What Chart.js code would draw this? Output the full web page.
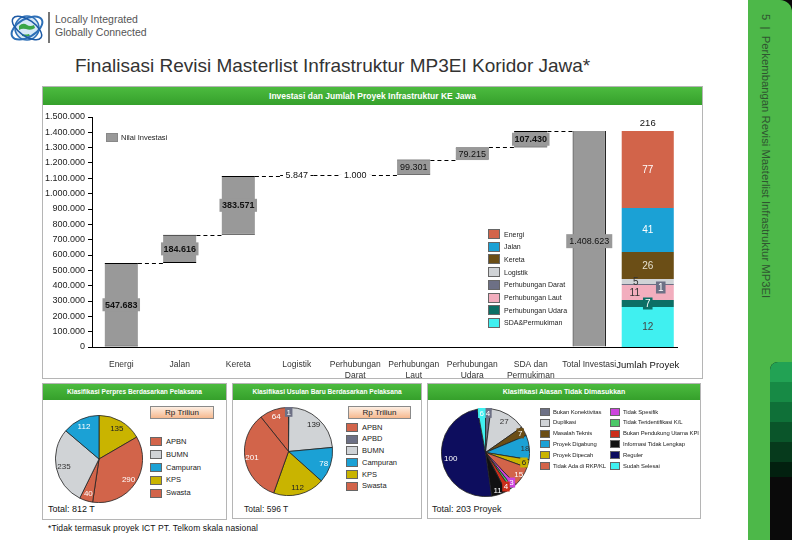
<!DOCTYPE html>
<html><head><meta charset="utf-8">
<script src="https://cdn.jsdelivr.net/npm/chart.js@4/dist/chart.umd.min.js"></script>
<style>
body{margin:0;width:792px;height:540px;position:relative;overflow:hidden;background:#fff;font-family:"Liberation Sans",Arial,sans-serif;}
.abs{position:absolute;}
.panel{position:absolute;border:1px solid #b5b5b5;box-sizing:border-box;background:#fff;}
.hdr{position:absolute;left:0;right:0;top:0;background:linear-gradient(#4cbb3f,#35a02b);color:#fff;font-weight:bold;text-align:center;white-space:nowrap;}
.lgbox{position:absolute;border:1px solid #666;box-sizing:border-box;}
.lgtxt{position:absolute;white-space:nowrap;color:#222;}
.btn{position:absolute;border:1px solid #8a8a8a;box-sizing:border-box;background:linear-gradient(#fdeee2,#f6b98f);font-size:8px;text-align:center;color:#222;}
</style></head><body>

<!-- data -->
<script>
const categories = [['Energi'],['Jalan'],['Kereta'],['Logistik'],['Perhubungan','Darat'],['Perhubungan','Laut'],['Perhubungan','Udara'],['SDA dan','Permukiman'],['Total Investasi'],['Jumlah Proyek']];
const investIncrements = [547683,184616,383571,5847,1000,99301,79215,107430];
const investTotal = 1408623;
const yAxisMax = 1500000;
const yAxisStep = 100000;

const proyekSectors = ['Energi','Jalan','Kereta','Logistik','Perhubungan Darat','Perhubungan Laut','Perhubungan Udara','SDA&Permukiman'];
const proyekHeights = [77,44,27,5,1,15,7,40];
const proyekLabels = ['77','41','26','5','1','11','7','12'];
const proyekTotal = 216;

const perpresLabels = ['KPS','APBN','Swasta','BUMN','Campuran'];
const perpresValues = [135,290,40,235,112];
const perpresLegend = ['APBN','BUMN','Campuran','KPS','Swasta'];
const perpresTotal = '812 T';

const usulanLabels = ['APBN','APBD','BUMN','Campuran','KPS','Swasta'];
const usulanValues = [64,1,139,78,112,201];
const usulanTotal = '596 T';

const alasanLabels = ['Bukan Konektivitas','Duplikasi','Masalah Teknis','Proyek Digabung','Proyek Dipecah','Tidak Ada di RKP/KL','Tidak Spesifik','Tidak Teridentifikasi K/L','Bukan Pendukung Utama KPI','Informasi Tidak Lengkap','Reguler','Sudah Selesai'];
const alasanValues = [4,27,7,18,6,15,3,2,4,11,100,6];
const alasanTotal = '203 Proyek';
</script>

<!-- logo -->
<svg class="abs" style="left:7px;top:8px" width="40" height="40" viewBox="0 0 40 40">
 <circle cx="20" cy="20" r="12" fill="#d6e8f7" stroke="#2d6fb7" stroke-width="1.6"/>
 <path d="M12 18 q4 -4 8 -1 q3 2 7 0 l1 3 q-4 3 -9 1 q-4 -1 -7 1z" fill="#3aa548"/>
 <path d="M15 26 q3 1 7 0 l1 2 q-3 1 -8 0z" fill="#3aa548"/>
 <ellipse cx="20" cy="20" rx="17" ry="9" fill="none" stroke="#2d6fb7" stroke-width="2" transform="rotate(-30 20 20)"/>
 <ellipse cx="20" cy="20" rx="17" ry="8" fill="none" stroke="#1d5aa5" stroke-width="1.5" transform="rotate(35 20 20)"/>
</svg>
<div class="abs" style="left:48px;top:12px;width:1.5px;height:31px;background:#777"></div>
<div class="abs" style="left:55px;top:13px;font-size:10.5px;color:#555;line-height:13px">Locally Integrated<br>Globally Connected</div>

<!-- title -->
<div class="abs" style="left:75px;top:55px;font-size:19px;color:#333;white-space:nowrap">Finalisasi Revisi Masterlist Infrastruktur MP3EI Koridor Jawa*</div>

<!-- right band -->
<div class="abs" style="left:780px;top:0;width:12px;height:20px;background-color:#0a0a0a"></div>
<div class="abs" style="left:748px;top:0;width:44px;height:540px;background-color:#4db849;border-top-right-radius:12px"></div>
<div class="abs" style="left:770px;top:362px;width:22px;height:178px;background-color:#0a0a0a;border-top-left-radius:8px;overflow:hidden;z-index:2">
  <div style="height:20px;background-color:#22a254"></div>
  <div style="height:20px;background-color:#178a45"></div>
  <div style="height:20px;background-color:#0f7038"></div>
  <div style="height:20px;background-color:#0a552a"></div>
  <div style="height:20px;background-color:#063a1c"></div>
  <div style="height:15px;background-color:#02200f"></div>
  <div style="height:70px;background-color:#0a0a0a"></div>
</div>
<div class="abs" style="left:760px;top:14px;writing-mode:vertical-rl;font-size:11.3px;color:#2f5530;white-space:nowrap">5&nbsp;&nbsp;|&nbsp;&nbsp;Perkembangan Revisi Masterlist Infrastruktur MP3EI</div>

<!-- top panel -->
<div class="panel" style="left:42px;top:86px;width:661px;height:293px">
  <div class="hdr" style="height:18px;line-height:18px;font-size:8.5px">Investasi dan Jumlah Proyek Infrastruktur KE Jawa</div>
</div>
<div class="abs" style="left:42px;top:104px;width:661px;height:274px"><canvas id="top" width="661" height="274"></canvas></div>
<div class="lgbox" style="left:106px;top:133px;width:12px;height:9px;background:#999;border-color:#888"></div>
<div class="lgtxt" style="left:121px;top:133px;font-size:7.5px">Nilai Investasi</div>
<div id="plegend"></div>

<!-- bottom panels -->
<div class="panel" style="left:42px;top:383px;width:185px;height:137px">
  <div class="hdr" style="height:16px;line-height:16px;font-size:6.6px">Klasifikasi Perpres Berdasarkan Pelaksana</div>
</div>
<div class="panel" style="left:232px;top:383px;width:190px;height:136px">
  <div class="hdr" style="height:16px;line-height:16px;font-size:6.6px">Klasifikasi Usulan Baru Berdasarkan Pelaksana</div>
</div>
<div class="panel" style="left:427px;top:383px;width:274px;height:136px">
  <div class="hdr" style="height:16px;line-height:16px;font-size:7px">Klasifikasi Alasan Tidak Dimasukkan</div>
</div>
<div class="btn" style="left:150px;top:406px;width:64px;height:13px;line-height:12px">Rp Triliun</div>
<div class="btn" style="left:348px;top:406px;width:63px;height:13px;line-height:12px">Rp Triliun</div>
<div class="abs" style="left:55px;top:415px"><canvas id="p1" width="88" height="88"></canvas></div>
<div class="abs" style="left:244px;top:407px"><canvas id="p2" width="89" height="89"></canvas></div>
<div class="abs" style="left:441px;top:408px"><canvas id="p3" width="89" height="89"></canvas></div>
<div id="l1"></div><div id="l2"></div><div id="l3"></div>
<div class="abs" id="t1" style="left:48px;top:504px;font-size:9px;color:#111"></div>
<div class="abs" id="t2" style="left:244px;top:504px;font-size:8.5px;color:#222"></div>
<div class="abs" id="t3" style="left:432px;top:504px;font-size:9px;color:#222"></div>
<div class="abs" style="left:48px;top:523px;font-size:8.5px;color:#111;white-space:nowrap;letter-spacing:0.1px">*Tidak termasuk proyek ICT PT. Telkom skala nasional</div>

<script>
Chart.defaults.font.family = "'Liberation Sans', Arial, sans-serif";
Chart.defaults.animation = false;

const colorMap = {
  'Energi':'#d2644a','Jalan':'#1ba1d5','Kereta':'#6b4e16','Logistik':'#d0d3d6',
  'Perhubungan Darat':'#6d7085','Perhubungan Laut':'#f2aebe','Perhubungan Udara':'#0c6f65','SDA&Permukiman':'#40f0f0',
  'APBN':'#d2644a','APBD':'#6d7085','BUMN':'#d0d3d6','Campuran':'#1ba1d5','KPS':'#c9b400','Swasta':'#d2644a',
  'Bukan Konektivitas':'#6d7085','Duplikasi':'#d0d3d6','Masalah Teknis':'#6b4e16','Proyek Digabung':'#1ba1d5',
  'Proyek Dipecah':'#c9b400','Tidak Ada di RKP/KL':'#d2644a','Tidak Spesifik':'#cc44dd','Tidak Teridentifikasi K/L':'#4cc868',
  'Bukan Pendukung Utama KPI':'#cc2e1a','Informasi Tidak Lengkap':'#111111','Reguler':'#0d0d5e','Sudah Selesai':'#40f0f0'
};
const fmt = v => String(v).replace(/\B(?=(\d{3})+(?!\d))/g,'.');

// legends
function legend(el, items, x, y0, dy, bw, bh, fs, tx){
  let h='';
  items.forEach((n,i)=>{
    const y=y0+dy*i;
    h+=`<div class="lgbox" style="left:${x}px;top:${y}px;width:${bw}px;height:${bh}px;background:${colorMap[n]}"></div>`;
    h+=`<div class="lgtxt" style="left:${x+bw+tx}px;top:${y+(bh-fs)/2-1}px;font-size:${fs}px;line-height:${fs+2}px">${n}</div>`;
  });
  document.getElementById(el).innerHTML=h;
}
legend('plegend', proyekSectors, 488, 229, 12.7, 12, 10, 7, 4);
legend('l1', perpresLegend, 150, 437, 12.9, 12, 9, 7.5, 4);
legend('l2', usulanLabels, 346, 423, 11.7, 12, 9, 7.5, 4);
(function(){
  const half = Math.ceil(alasanLabels.length/2);
  let h='';
  alasanLabels.forEach((n,i)=>{
    const col = i<half?0:1, row = i%half;
    const x = col?610:540, y = 408+row*10.8;
    h+=`<div class="lgbox" style="left:${x}px;top:${y}px;width:10px;height:8px;background:${colorMap[n]}"></div>`;
    h+=`<div class="lgtxt" style="left:${x+13}px;top:${y-0.5}px;font-size:5.9px;line-height:9px;letter-spacing:-0.1px">${n}</div>`;
  });
  document.getElementById('l3').innerHTML=h;
})();
document.getElementById('t1').textContent='Total: '+perpresTotal;
document.getElementById('t2').textContent='Total: '+usulanTotal;
document.getElementById('t3').textContent='Total: '+alasanTotal;

// waterfall data
const cum=[0];
investIncrements.forEach(v=>cum.push(cum[cum.length-1]+v));
const wfData = investIncrements.map((v,i)=>[cum[i],cum[i+1]]);
wfData.push([0,investTotal]);
wfData.push(null);

const datasets=[{
  label:'Nilai Investasi', data:wfData, yAxisID:'y', backgroundColor:'#999999',
  borderColor:'#000', borderWidth:(c)=>c.dataIndex===8?{left:1,right:1,top:0,bottom:0}:{top:1,bottom:1,left:0,right:0},
  borderSkipped:false, grouped:false, categoryPercentage:1, barPercentage:0.57
}];
// stack from bottom (last sector) to top (first sector)
const proyekOrder = proyekSectors.map((s,j)=>j).reverse();
proyekOrder.forEach(j=>{
  const s=proyekSectors[j];
  datasets.push({label:s, data:new Array(categories.length-1).fill(null).concat([proyekHeights[j]]),
    yAxisID:'y2', stack:'p', backgroundColor:colorMap[s], borderWidth:0, grouped:false, categoryPercentage:1, barPercentage:0.89});
});

function boxText(ctx, txt, x, y, bg, fg, font, padX, h){
  ctx.font=font;
  const w=ctx.measureText(txt).width+padX*2;
  if(bg){ctx.fillStyle=bg;ctx.fillRect(x-w/2,y-h/2,w,h);}
  ctx.fillStyle=fg;ctx.textAlign='center';ctx.textBaseline='middle';
  ctx.fillText(txt,x,y+0.5);
}

const wfPlugin={
  id:'wf',
  afterDatasetsDraw(chart){
    const ctx=chart.ctx, meta=chart.getDatasetMeta(0), ys=chart.scales.y;
    ctx.save();
    ctx.strokeStyle='#000';ctx.lineWidth=1;ctx.setLineDash([4,3]);
    for(let i=0;i<8;i++){
      const a=meta.data[i], b=meta.data[i+1];
      const lvl=Math.round(ys.getPixelForValue(cum[i+1]))+0.5;
      ctx.beginPath();ctx.moveTo(a.x+a.width/2,lvl);ctx.lineTo(b.x-b.width/2,lvl);ctx.stroke();
    }
    ctx.setLineDash([]);
    const styles=[
      {bold:true,bg:'#999'},{bold:true,bg:'#999'},{bold:true,bg:'#999'},
      {bold:false,bg:'#fff',lvl:true},{bold:false,bg:'#fff',lvl:true},
      {bold:false,bg:'#999'},{bold:false,bg:'#999'},{bold:true,bg:'#999'}];
    investIncrements.forEach((v,i)=>{
      const el=meta.data[i], st=styles[i];
      const y = st.lvl ? ys.getPixelForValue(cum[i+1]) : (el.y+el.base)/2;
      boxText(ctx, fmt(v), el.x, y, st.bg, '#111', (st.bold?'bold ':'')+'9px "Liberation Sans", Arial', 2.5, 13);
    });
    const t=meta.data[8];
    boxText(ctx, fmt(investTotal), t.x, ys.getPixelForValue(investTotal*0.49), '#999', '#111', '9px "Liberation Sans", Arial', 3, 14);
    // proyek labels
    const pstyle=[
      {fg:'#fff'},{fg:'#fff'},{fg:'#e6e0d0'},{fg:'#333',dx:-12},{fg:'#fff',dx:13,bg:'#6d7085'},
      {fg:'#333',dx:-13},{fg:'#fff',bg:'#0c6f65'},{fg:'#444'}];
    let topY=null, cx=null;
    proyekOrder.forEach((j,k)=>{
      const el=chart.getDatasetMeta(k+1).data[categories.length-1];
      const st=pstyle[j];
      const y=(el.y+el.base)/2 + (j===4?3:0);
      boxText(ctx, proyekLabels[j], el.x+(st.dx||0), y, st.bg||null, st.fg, '10px "Liberation Sans", Arial', 2, 12);
      if(topY===null||el.y<topY){topY=el.y;cx=el.x;}
    });
    boxText(ctx, String(proyekTotal), cx, topY-8, null, '#111', '9.5px "Liberation Sans", Arial', 0, 12);
    ctx.restore();
  }
};

new Chart(document.getElementById('top'),{
  type:'bar',
  data:{labels:categories,datasets},
  options:{
    responsive:false,
    layout:{padding:{top:13,right:26,left:0,bottom:0}},
    plugins:{legend:{display:false},tooltip:{enabled:false}},
    scales:{
      x:{grid:{display:false},border:{display:true,color:'#000'},
         ticks:{autoSkip:false,maxRotation:0,padding:5,color:(c)=>c.index===9?'#111':'#333',
           font:(c)=>({size:c.index===9?9.5:8.5})},
         afterFit:(s)=>{s.height=31;}},
      y:{min:0,max:yAxisMax,stacked:false,
         ticks:{stepSize:yAxisStep,color:'#222',font:{size:9},padding:3,callback:(v)=>fmt(v)},
         grid:{display:true,drawOnChartArea:false,drawTicks:true,tickLength:4,color:'#000'},
         border:{display:true,color:'#000'},
         afterFit:(s)=>{s.width=50;}},
      y2:{display:false,min:0,max:230,stacked:true}
    }
  },
  plugins:[wfPlugin]
});

// pies
function pieLabelPlugin(cfg){
  return {id:'pl',afterDatasetsDraw(chart){
    const ctx=chart.ctx, meta=chart.getDatasetMeta(0);
    ctx.save();
    meta.data.forEach((arc,i)=>{
      const c=cfg[i]; if(!c||!c.t) return;
      const mid=(arc.startAngle+arc.endAngle)/2, r=arc.outerRadius*(c.f||0.82);
      const x=arc.x+Math.cos(mid)*r, y=arc.y+Math.sin(mid)*r;
      boxText(ctx, c.t, x, y, c.bg||null, c.fg, '8px "Liberation Sans", Arial', 1.5, 10);
    });
    ctx.restore();
  }};
}
function pie(id, labels, values, rotation, cfg){
  new Chart(document.getElementById(id),{
    type:'pie',
    data:{labels,datasets:[{data:values,backgroundColor:labels.map(l=>colorMap[l]),borderColor:'#222',borderWidth:0.8}]},
    options:{responsive:false,rotation,layout:{padding:0},plugins:{legend:{display:false},tooltip:{enabled:false}}},
    plugins:[pieLabelPlugin(cfg)]
  });
}
const sum=a=>a.reduce((x,y)=>x+y,0);
pie('p1', perpresLabels, perpresValues, 0,
  perpresValues.map((v,i)=>({t:String(v),fg:['#222','#fff','#fff','#333','#fff'][i]})));
pie('p2', usulanLabels, usulanValues, -360*usulanValues[0]/sum(usulanValues),
  usulanValues.map((v,i)=>({t:String(v),fg:['#fff','#fff','#222','#fff','#222','#fff'][i],bg:i===1?'#6d7085':null,f:i===1?0.9:0.84})));
const alasanFg=['#fff','#333','#fff','#333','#222','#fff','#fff','#fff','#fff','#fff','#fff','#fff'];
pie('p3', alasanLabels, alasanValues, 0,
  alasanValues.map((v,i)=>({t:i===7?'':String(v),fg:alasanFg[i],f:v>20?(v>50?0.8:0.82):0.9,
    bg:(v<10)?colorMap[alasanLabels[i]]:null})));
</script>
</body></html>
